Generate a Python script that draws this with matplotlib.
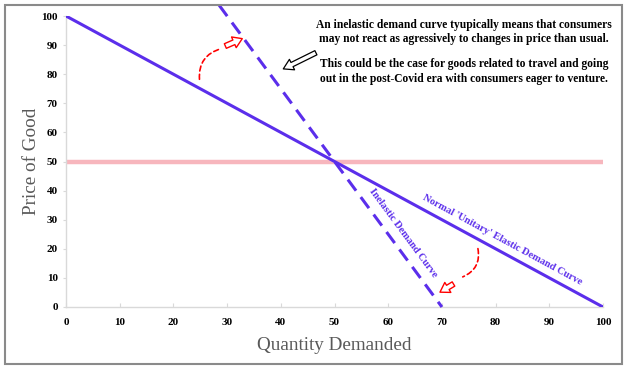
import numpy as np
import matplotlib.pyplot as plt
from matplotlib.patches import FancyArrowPatch, Rectangle

# data
elastic_q = [0, 100]
elastic_p = [100, 0]
inelastic_q = [28.5, 70]
inelastic_p = [103.75, 0]
ref_price = 50
x_ticks = [0, 10, 20, 30, 40, 50, 60, 70, 80, 90, 100]
y_ticks = [0, 10, 20, 30, 40, 50, 60, 70, 80, 90, 100]

note_1 = ("An inelastic demand curve tyupically means that consumers\n"
          "may not react as agressively to changes in price than usual.")
note_2 = ("This could be the case for goods related to travel and going\n"
          "out in the post-Covid era with consumers eager to venture.")

blue = '#5B2EEB'
plt.rcParams['font.family'] = ['Liberation Serif', 'DejaVu Serif']

fig = plt.figure(figsize=(6.29, 3.69), dpi=100)
ax = fig.add_axes([66 / 629, 1 - 307 / 369, 537 / 629, 291 / 369])

# frame around the whole chart
fig.patches.append(Rectangle((5 / 629, 5 / 369), 617 / 629, 359 / 369,
                             transform=fig.transFigure, fill=False,
                             edgecolor='#8a8a8a', lw=1.5))

ax.axhline(ref_price, color='#F7B6BD', lw=3.2, zorder=1)
ax.plot(elastic_q, elastic_p, color=blue, lw=2.2, zorder=3)
ax.plot(inelastic_q, inelastic_p, color=blue, lw=2.2, dashes=(4.5, 2.6),
        zorder=3, clip_on=False)

ax.set_xlim(0, 100)
ax.set_ylim(0, 100)
ax.set_xticks(x_ticks)
ax.set_yticks(y_ticks)
for s in ['top', 'right']:
    ax.spines[s].set_visible(False)
for s in ['left', 'bottom']:
    ax.spines[s].set_color('#d9d9d9')
    ax.spines[s].set_linewidth(1.0)
ax.tick_params(axis='x', direction='in', length=3, color='#d9d9d9',
               labelsize=8, pad=8)
ax.tick_params(axis='y', length=2, color='#d9d9d9', labelsize=8, pad=4)
for lab in ax.get_xticklabels() + ax.get_yticklabels():
    lab.set_fontweight('bold')

ax.set_xlabel('Quantity Demanded', fontsize=13.8, color='#595959', labelpad=7)
ax.set_ylabel('Price of Good', fontsize=13.8, color='#595959', labelpad=1)

# curve labels
ax.text(62.8, 25.4, 'Inelastic Demand Curve', color=blue, fontsize=7.5,
        fontweight='bold', ha='center', va='center',
        rotation=np.degrees(np.arctan2(-50, 20)), transform_rotates_text=True,
        rotation_mode='anchor')
ax.text(81.2, 23.0, "Normal 'Unitary' Elastic Demand Curve", color=blue,
        fontsize=7.5, fontweight='bold', ha='center', va='center',
        rotation=-45, transform_rotates_text=True, rotation_mode='anchor')

# note text
fig.text(464 / 629, 1 - 32 / 369, note_1, ha='center', va='center',
         fontsize=8.3, fontweight='bold', linespacing=1.25)
fig.text(464 / 629, 1 - 71.5 / 369, note_2, ha='center', va='center',
         fontsize=8.3, fontweight='bold', linespacing=1.25)

# red dashed curved arrows
ax.add_patch(FancyArrowPatch((24.9, 77.3), (29.4, 89.0),
                             connectionstyle='arc3,rad=-0.45', arrowstyle='-',
                             color='red', lw=1.2, ls=(0, (3, 2))))
ax.add_patch(FancyArrowPatch((29.2, 89.3), (33.3, 92.6),
                             arrowstyle='simple,head_width=0.7,head_length=0.55,tail_width=0.3',
                             mutation_scale=12, fc='white', ec='red', lw=1))
ax.add_patch(FancyArrowPatch((76.6, 21.0), (73.4, 10.0),
                             connectionstyle='arc3,rad=-0.45', arrowstyle='-',
                             color='red', lw=1.2, ls=(0, (3, 2))))
ax.add_patch(FancyArrowPatch((72.6, 8.4), (69.2, 4.6),
                             arrowstyle='simple,head_width=0.7,head_length=0.55,tail_width=0.3',
                             mutation_scale=12, fc='white', ec='red', lw=1))

# black hollow pointer
ax.add_patch(FancyArrowPatch((47.0, 87.8), (40.0, 81.4),
                             arrowstyle='simple,head_width=0.6,head_length=0.5,tail_width=0.24',
                             mutation_scale=14, fc='white', ec='black', lw=0.9,
                             clip_on=False))

plt.savefig('out.png', dpi=100)
